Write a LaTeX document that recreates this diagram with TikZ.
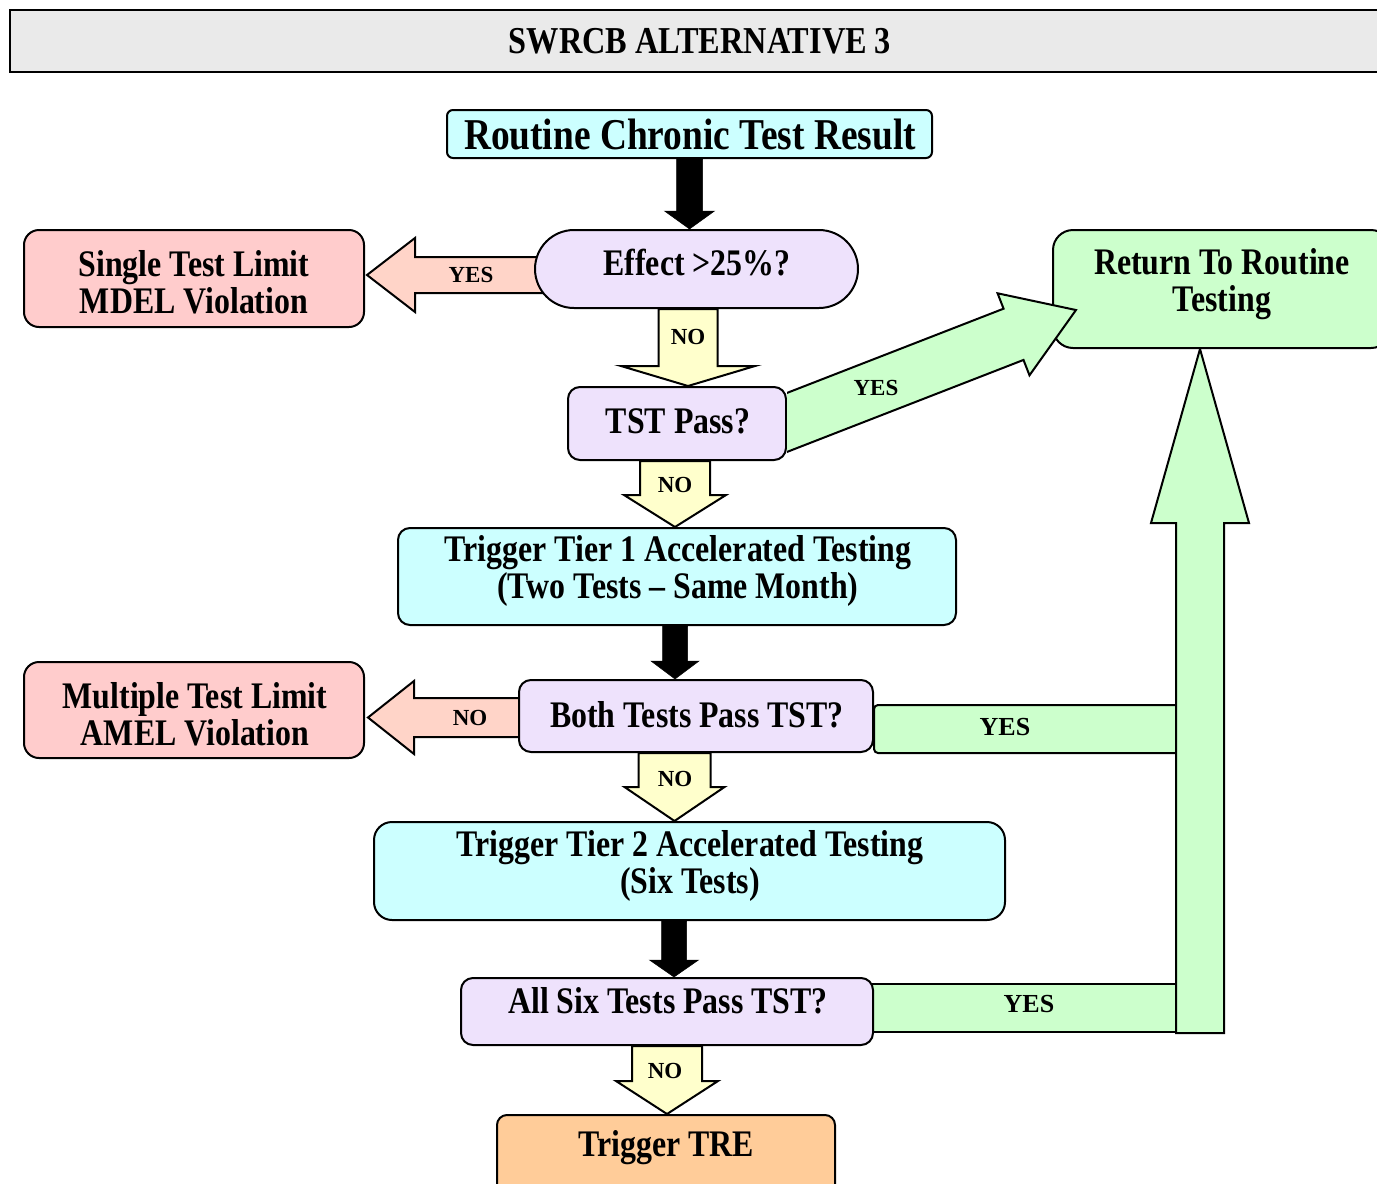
\documentclass[tikz,border=0pt]{standalone}
\usepackage{fontspec}
\setmainfont{Liberation Serif}
\newfontfamily\condfont[FakeStretch=0.85]{Liberation Serif}
\usetikzlibrary{calc}
\pgfdeclarelayer{background}
\pgfsetlayers{background,main}

\definecolor{lavc}{RGB}{238,226,252}
\definecolor{cyanc}{RGB}{204,255,255}
\definecolor{pinkbox}{RGB}{255,204,204}
\definecolor{pinkarr}{RGB}{255,212,200}
\definecolor{yelc}{RGB}{255,255,204}
\definecolor{greenc}{RGB}{204,255,204}
\definecolor{orangec}{RGB}{255,204,153}
\definecolor{titlegray}{RGB}{234,234,234}

% block arrow: #1 style, #2 start, #3 tip, #4 shaft half width,
% #5 head half width, #6 head length (all in pt)
\newcommand\blockarrow[6]{%
  \draw[#1] let \p1=(#2), \p2=(#3),
      \n1={atan2(\y2-\y1,\x2-\x1)},
      \n2={veclen(\x2-\x1,\y2-\y1)} in
    [shift={(\p1)}, rotate=\n1]
    ({0pt},{#4pt}) -- ({\n2*1pt-#6pt},{#4pt}) -- ({\n2*1pt-#6pt},{#5pt})
    -- ({\n2*1pt},{0pt}) -- ({\n2*1pt-#6pt},{-#5pt}) -- ({\n2*1pt-#6pt},{-#4pt})
    -- ({0pt},{-#4pt}) -- cycle;
}

\begin{document}
\begin{tikzpicture}[x=1pt,y=-1pt,
  box/.style={draw=black, line width=2pt, rectangle, inner sep=0pt},
  boxtxt/.style={font=\condfont\bfseries\fontsize{37.5}{37}\selectfont, align=center, inner sep=0pt},
  lbl/.style={font=\bfseries\fontsize{23}{23}\selectfont, inner sep=0pt},
  blk/.style={fill=black, draw=black, line width=0.5pt},
  yel/.style={fill=yelc, draw=black, line width=2pt},
  pnk/.style={fill=pinkarr, draw=black, line width=2pt},
  grn/.style={fill=greenc, draw=black, line width=2pt}]
\useasboundingbox (0,0) rectangle (1377,1184);

% title bar
\node[box, line width=2.5pt, fill=titlegray, minimum width=1375pt, minimum height=62pt] (title) at (697.5,41) {};
\node[font=\condfont\bfseries\fontsize{38}{38}\selectfont, inner sep=0pt] (title-t) at (700,41) {SWRCB ALTERNATIVE 3};

% boxes
\node[box, fill=cyanc, rounded corners=6pt, minimum width=485pt, minimum height=48pt] (routine) at (689.5,134) {};
\node[box, fill=lavc, rounded corners=39pt, minimum width=323pt, minimum height=78pt] (effect) at (696.5,269) {};
\node[box, fill=pinkbox, rounded corners=15pt, minimum width=340pt, minimum height=97pt] (single) at (194,278.5) {};
\node[box, fill=lavc, rounded corners=12pt, minimum width=218pt, minimum height=73pt] (tst) at (677,423.5) {};
\node[box, fill=greenc, rounded corners=20pt, minimum width=338pt, minimum height=118pt] (ret) at (1222,289) {};
\node[box, fill=cyanc, rounded corners=12pt, minimum width=558pt, minimum height=97pt] (tier1) at (677,576.5) {};
\node[box, fill=lavc, rounded corners=12pt, minimum width=354pt, minimum height=72pt] (both) at (696,716) {};
\node[box, fill=pinkbox, rounded corners=15pt, minimum width=340pt, minimum height=96pt] (amel) at (194,710) {};
\node[box, fill=cyanc, rounded corners=18pt, minimum width=631pt, minimum height=98pt] (tier2) at (689.5,871) {};
\node[box, fill=lavc, rounded corners=12pt, minimum width=412pt, minimum height=67pt] (allsix) at (667,1011.5) {};
\node[box, fill=orangec, rounded corners=10pt, minimum width=338pt, minimum height=80pt] (tre) at (666,1155) {};

% box texts
\node[boxtxt, font=\condfont\bfseries\fontsize{44}{44}\selectfont] (routine-t) at (690,134) {Routine Chronic Test Result};
\node[boxtxt] (effect-t) at (697,263) {Effect >25\%?};
\node[boxtxt] (single-t) at (194,282) {Single Test Limit\\MDEL Violation};
\node[boxtxt] (tst-t) at (678,421) {TST Pass?};
\node[boxtxt] (ret-t) at (1222,284) {Return To Routine\\Testing};
\node[boxtxt] (tier1-t) at (678,571) {Trigger Tier 1 Accelerated Testing\\(Two Tests – Same Month)};
\node[boxtxt] (both-t) at (697,715) {Both Tests Pass TST?};
\node[boxtxt] (amel-t) at (195,714) {Multiple Test Limit\\AMEL Violation};
\node[boxtxt] (tier2-t) at (690,866) {Trigger Tier 2 Accelerated Testing\\(Six Tests)};
\node[boxtxt] (allsix-t) at (668,1001) {All Six Tests Pass TST?};
\node[boxtxt] (tre-t) at (666,1148) {Trigger TRE};

% connector end points
\coordinate (y1a) at ($(effect.south)+(-8.5,0)$);
\coordinate (y1b) at (y1a |- tst.north);
\coordinate (y2a) at ($(tst.south)+(-2,0)$);
\coordinate (y2b) at (y2a |- tier1.north);
\coordinate (k2a) at ($(tier1.south)+(-2,0)$);
\coordinate (k2b) at (k2a |- both.north);
\coordinate (y3a) at ($(both.south)+(-21.5,0)$);
\coordinate (y3b) at (y3a |- tier2.north);
\coordinate (k3a) at ($(tier2.south)+(-15.5,0)$);
\coordinate (k3b) at (k3a |- allsix.north);
\coordinate (y4b) at (allsix.south |- tre.north);
\coordinate (p1a) at ($(effect.west)+(30,6)$);
\coordinate (p1b) at ($(single.east |- p1a)+(2,0)$);
\coordinate (p2a) at ($(both.west)+(20,1.5)$);
\coordinate (p2b) at ($(amel.east |- p2a)+(3,0)$);
\coordinate (g1a) at ($(tst.east)+(-30,10.6)$);
\coordinate (g1b) at ($(ret.west)+(24,21)$);
\coordinate (riser) at ($(allsix.south east)+(326,-13)$);
\coordinate (riserTop) at (riser |- ret.south);

\begin{pgfonlayer}{background}
  \blockarrow{blk}{routine.south}{routine.south |- effect.north}{13}{25}{18}
  \blockarrow{yel}{y1a}{y1b}{29.5}{67}{20}
  \blockarrow{yel}{y2a}{y2b}{35}{51}{32}
  \blockarrow{blk}{k2a}{k2b}{12.5}{24}{18}
  \blockarrow{yel}{y3a}{y3b}{36}{50}{34}
  \blockarrow{blk}{k3a}{k3b}{12.5}{24.5}{17}
  \blockarrow{yel}{allsix.south}{y4b}{35}{51}{33}
  \blockarrow{pnk}{p1a}{p1b}{18}{37}{48}
  \blockarrow{pnk}{p2a}{p2b}{19.5}{36.5}{46}
  % YES branches joining the riser
  \draw[grn, rounded corners=4pt] ($(both.south east)+(0,-48)$) rectangle ($(riser |- both.south)+(-21,0)$);
  \draw[grn] ($(allsix.east)+(-10,-27.5)$) rectangle ($(riser)+(-6,-1)$);
  \blockarrow{grn}{riser}{riserTop}{24}{49}{174}
\end{pgfonlayer}

% diagonal YES arrow, cut at the right side of the TST box
\begin{scope}
  \clip (tst.east |- 0,0) rectangle (1377,1184);
  \blockarrow{grn}{g1a}{g1b}{27.5}{44}{67}
\end{scope}

% branch labels
\node[lbl] (l-yes1) at (471,275) {YES};
\node[lbl] (l-no1) at (688,337) {NO};
\node[lbl] (l-yes2) at (876,388) {YES};
\node[lbl] (l-no2) at (675,485) {NO};
\node[lbl] (l-no3) at (470,718) {NO};
\node[lbl, font=\bfseries\fontsize{26}{26}\selectfont] (l-yes3) at (1005,727) {YES};
\node[lbl] (l-no4) at (675,779) {NO};
\node[lbl, font=\bfseries\fontsize{26}{26}\selectfont] (l-yes4) at (1029,1004) {YES};
\node[lbl] (l-no5) at (665,1071) {NO};
\end{tikzpicture}
\end{document}
